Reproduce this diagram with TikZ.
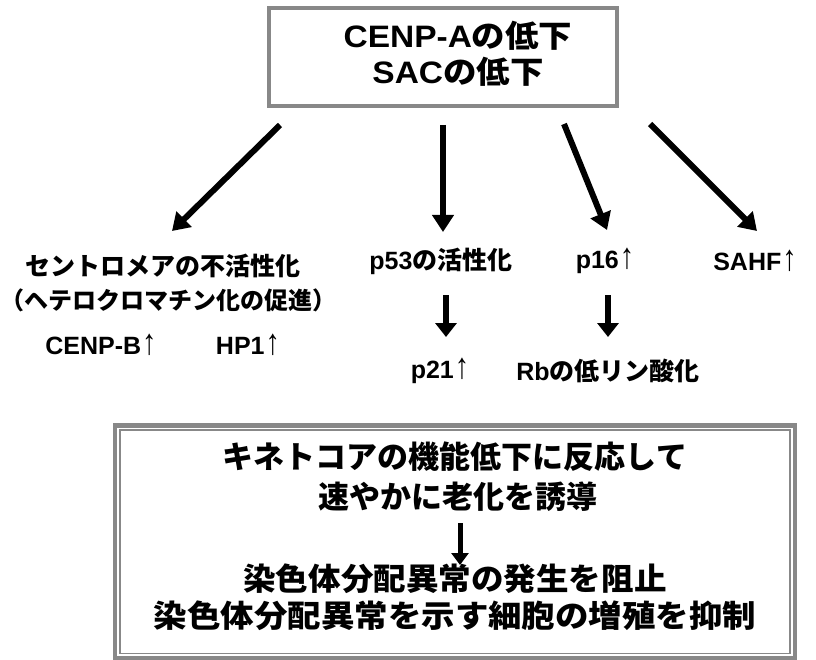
\documentclass[tikz,border=0pt]{standalone}
\usepackage{fontspec}
\usepackage{graphicx}
\setmainfont{Liberation Sans}
\newfontfamily\jp{Noto Sans CJK JP}
\usetikzlibrary{arrows.meta}
\newcommand{\J}[1]{{\jp #1}}
\newcommand{\upar}{\kern1pt\scalebox{1.15}[1.45]{\mdseries ↑}}
\definecolor{framegray}{RGB}{136,136,136}
\begin{document}
\begin{tikzpicture}[x=1pt,y=-1pt,
  lbl/.style={inner sep=0pt, font=\fontsize{25}{30}\selectfont\bfseries, align=center},
  toptxt/.style={inner sep=0pt, font=\fontsize{31}{37}\selectfont\bfseries},
  bottxt/.style={inner sep=0pt, font=\fontsize{31}{38}\selectfont\bfseries\jp},
  bigarrow/.style={line width=6pt, -{Triangle[length=17pt,width=21pt]}},
  smallarrow/.style={line width=6.5pt, -{Triangle[length=14pt,width=21pt]}},
  botarrow/.style={line width=5pt, -{Triangle[length=12pt,width=17pt]}},
  frame/.style={draw=framegray, inner sep=0pt, outer sep=0pt}
]
\useasboundingbox (0,0) rectangle (816,660);

% top box
\node[frame, line width=4pt, minimum width=348pt, minimum height=98pt] (topbox) at (443,57) {};
\node[toptxt] (toptext1) at (458,36) {\scalebox{1.08}[1]{CENP-A\J{の低下}}};
\node[toptxt] (toptext2) at (458,72) {\scalebox{1.08}[1]{SAC\J{の低下}}};

% bottom box (double frame)
\node[frame, line width=4.5pt, minimum width=680pt, minimum height=232.5pt] (botbox) at (455,541.75) {};
\node[frame, line width=1.5pt, minimum width=670pt, minimum height=223.5pt] (botinner) at (455,541.75) {};

% row labels
\node[lbl] (l1) at (163,266) {\J{セントロメアの不活性化}};
\node[lbl, font=\fontsize{24}{30}\selectfont\bfseries] (l2) at (169,300) {\J{（ヘテロクロマチン化の促進）}};
\node[lbl] (l3) at (101,345) {CENP-B\upar};
\node[lbl] (l4) at (248,345) {HP1\upar};
\node[lbl] (m1) at (441,261) {p53\J{の活性化}};
\node[lbl] (m2) at (605,261) {p16\upar};
\node[lbl] (m3) at (755,261) {SAHF\upar};
\node[lbl] (n1) at (440,371) {p21\upar};
\node[lbl] (n2) at (608,371) {Rb\J{の低リン酸化}};

% bottom texts
\node[bottxt] (b1) at (455,457) {キネトコアの機能低下に反応して};
\node[bottxt] (b2) at (458,497) {速やかに老化を誘導};
\node[bottxt] (b3) at (455,579) {\scalebox{1.05}[1]{染色体分配異常の発生を阻止}};
\node[bottxt] (b4) at (455,616) {\scalebox{1.08}[1]{染色体分配異常を示す細胞の増殖を抑制}};

% arrow endpoints
\coordinate (a1s) at (280,125); \coordinate (a1e) at (172,231);
\coordinate (a2s) at (443,125); \coordinate (a2e) at (443,232);
\coordinate (a3s) at (564,124); \coordinate (a3e) at (607,230);
\coordinate (a4s) at (650,124); \coordinate (a4e) at (757,231);
\coordinate (s1s) at (446,295); \coordinate (s1e) at (446,337);
\coordinate (s2s) at (608,295); \coordinate (s2e) at (608,337);
\coordinate (c1s) at (460,523); \coordinate (c1e) at (460,565);

\draw[bigarrow] (a1s) -- (a1e);
\draw[bigarrow] (a2s) -- (a2e);
\draw[bigarrow] (a3s) -- (a3e);
\draw[bigarrow] (a4s) -- (a4e);
\draw[smallarrow] (s1s) -- (s1e);
\draw[smallarrow] (s2s) -- (s2e);
\draw[botarrow] (c1s) -- (c1e);
\end{tikzpicture}
\end{document}
